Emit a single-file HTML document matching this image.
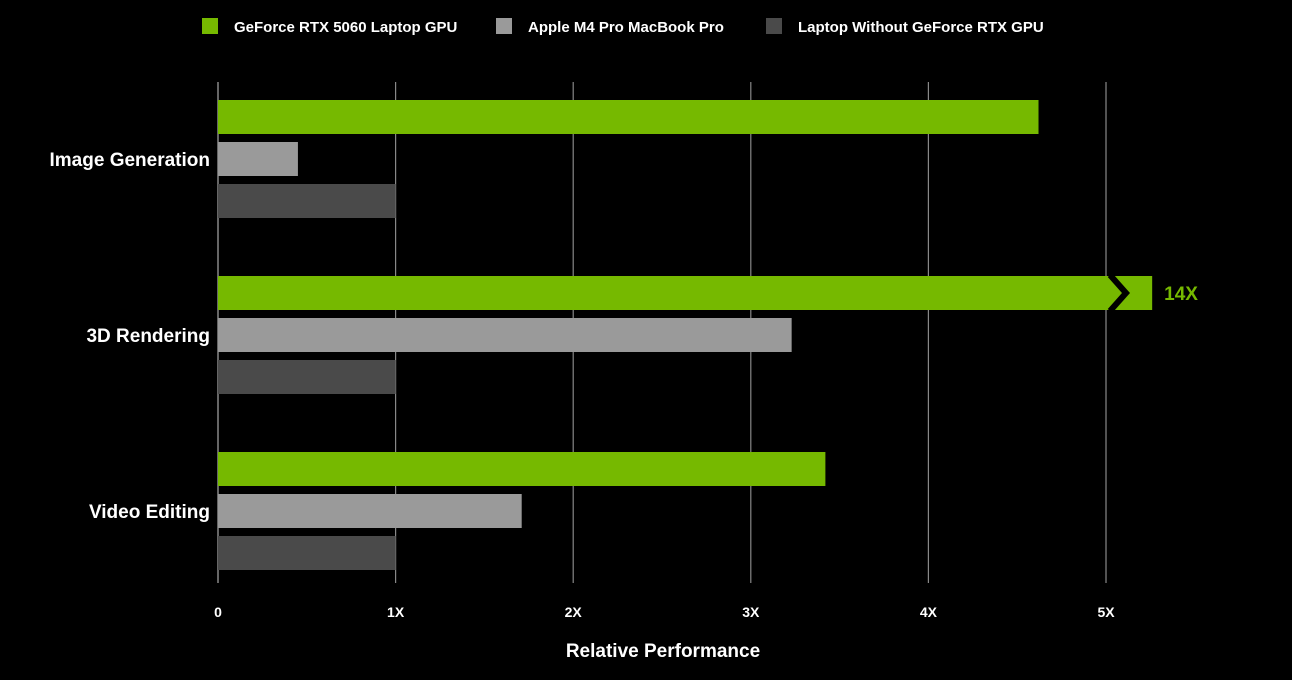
<!DOCTYPE html>
<html><head><meta charset="utf-8"><style>
html,body{margin:0;padding:0;background:#000;}
svg{display:block;font-family:"Liberation Sans","DejaVu Sans",sans-serif;}
</style></head><body>
<svg id="chart" width="1292" height="680" viewBox="0 0 1292 680">
<rect x="0" y="0" width="1292" height="680" fill="#000"/>
<g font-size="15" font-weight="bold" fill="#fff">
<g><rect x="202" y="18" width="16" height="16" fill="#76b900"/><text x="234" y="32">GeForce RTX 5060 Laptop GPU</text></g>
<g><rect x="496" y="18" width="16" height="16" fill="#9a9a9a"/><text x="528" y="32">Apple M4 Pro MacBook Pro</text></g>
<g><rect x="766" y="18" width="16" height="16" fill="#4a4a4a"/><text x="798" y="32">Laptop Without GeForce RTX GPU</text></g>
</g>
<g id="grid"></g>
<g id="bars"></g>
<g id="labels"></g>
<g id="ticks"></g>
<text x="663" y="657" fill="#fff" font-size="19" font-weight="bold" text-anchor="middle">Relative Performance</text>
</svg>
<script>
const categories = ["Image Generation", "3D Rendering", "Video Editing"];
const rtx5060 = [4.62, 14, 3.42];
const m4pro = [0.45, 3.23, 1.71];
const noRtx = [1, 1, 1];
const tickValues = [0, 1, 2, 3, 4, 5];
const tickLabels = ["0", "1X", "2X", "3X", "4X", "5X"];
const axisMax = 5;
const x0 = 218, pxPerUnit = 177.6, plotTop = 82, plotBottom = 583;
const ns = "http://www.w3.org/2000/svg";
function xs(v){ return x0 + v * pxPerUnit; }
function mk(tag, attrs, parent){ const e = document.createElementNS(ns, tag); for (const k in attrs) e.setAttribute(k, attrs[k]); parent.appendChild(e); return e; }
const grid = document.getElementById('grid'), bars = document.getElementById('bars'), labels = document.getElementById('labels'), ticks = document.getElementById('ticks');
tickValues.forEach((v, i) => {
  const l = mk('line', {x1: xs(v), x2: xs(v), y1: plotTop, y2: plotBottom, stroke: i === 0 ? '#aaa' : '#888', 'stroke-width': 1.2}, grid);
  
  
  const t = mk('text', {x: xs(v), y: 617, fill: '#fff', 'font-size': 14, 'font-weight': 'bold', 'text-anchor': 'middle'}, ticks);
  t.textContent = tickLabels[i];
  
  
});
const series = [[rtx5060, '#76b900', 'rtx5060'], [m4pro, '#9a9a9a', 'm4pro'], [noRtx, '#4a4a4a', 'no-rtx']];
const groupStart = 100, groupStep = 176, barH = 34, barStep = 42;
categories.forEach((c, ci) => {
  const gy = groupStart + ci * groupStep;
  series.forEach((s, si) => {
    const v = s[0][ci];
    const broken = v > axisMax;
    const shown = broken ? axisMax + 0.26 : v;
    const y = gy + si * barStep;
    const r = mk('rect', {x: x0, y: y, width: xs(shown) - x0, height: barH, fill: s[1]}, bars);
    
    
    if (broken) {
      const bx = xs(axisMax) + 4;
      const p = mk('polyline', {points: (bx) + ',' + (y - 1) + ' ' + (bx + 16) + ',' + (y + barH / 2) + ' ' + (bx) + ',' + (y + barH + 1), fill: 'none', stroke: '#000', 'stroke-width': 6}, bars);
      
      
      const t = mk('text', {x: xs(shown) + 12, y: y + barH / 2 + 7, fill: '#76b900', 'font-size': 19, 'font-weight': 'bold'}, bars);
      t.textContent = v + 'X';
      
      
    }
  });
  const t = mk('text', {x: 210, y: gy + barStep + barH / 2 + 7, fill: '#fff', 'font-size': 19, 'font-weight': 'bold', 'text-anchor': 'end'}, labels);
  t.textContent = c;
  
  
});
</script>
</body></html>
